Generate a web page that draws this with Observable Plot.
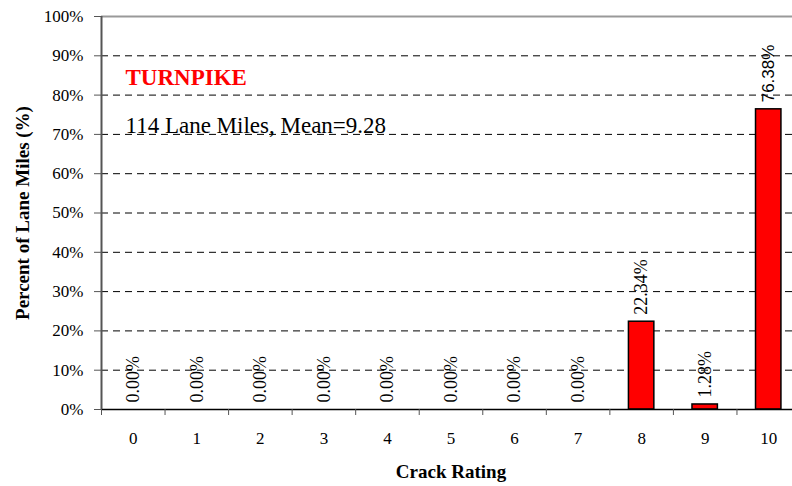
<!DOCTYPE html>
<html>
<head>
<meta charset="utf-8">
<script src="https://cdn.jsdelivr.net/npm/d3@7"></script>
<script src="https://cdn.jsdelivr.net/npm/@observablehq/plot@0.6"></script>
<style>
  html, body { margin: 0; padding: 0; background: #fff; }
  #chart svg { display: block; overflow: hidden; font-family: "Liberation Serif", "Times New Roman", serif; }
</style>
</head>
<body>
<div id="chart"></div>
<script>
const ratings = [0, 1, 2, 3, 4, 5, 6, 7, 8, 9, 10];
const percents = [0, 0, 0, 0, 0, 0, 0, 0, 22.34, 1.28, 76.38];
const valueLabels = ["0.00%", "0.00%", "0.00%", "0.00%", "0.00%", "0.00%", "0.00%", "0.00%", "22.34%", "1.28%", "76.38%"];
const yTicks = [0, 10, 20, 30, 40, 50, 60, 70, 80, 90, 100];
const dashedGrid = [10, 20, 30, 40, 50, 60, 70, 80, 90];
const title = "TURNPIKE";
const subtitle = "114 Lane Miles, Mean=9.28";
const xTitle = "Crack Rating";
const yTitle = "Percent of Lane Miles (%)";

const rows = ratings.map((r, i) => ({r, p: percents[i], label: valueLabels[i]}));
const boundaries = ratings.map(r => r - 0.5).concat([ratings[ratings.length - 1] + 0.5]);
const half = 0.2;
const serif = "Liberation Serif";
const sans = "Liberation Sans";

const chart = Plot.plot({
  width: 792,
  height: 486,
  marginLeft: 101,
  marginRight: -8,
  marginTop: 16,
  marginBottom: 77,
  style: {fontFamily: serif, background: "#fff", color: "#000"},
  x: {type: "linear", domain: [-0.5, 10.5]},
  y: {domain: [0, 100]},
  marks: [
    Plot.ruleY(dashedGrid, {stroke: "#000", strokeWidth: 1, strokeDasharray: "7,5"}),
    Plot.ruleY([100], {stroke: "#999", strokeWidth: 2}),
    Plot.rectY(rows, {x1: d => d.r - half, x2: d => d.r + half, y1: 0, y2: "p", fill: "#ff0000", stroke: "#000", strokeWidth: 1.5}),
    Plot.ruleY([0], {stroke: "#000", strokeWidth: 1.5}),
    Plot.ruleX([boundaries[0]], {y1: 0, y2: 100, stroke: "#555", strokeWidth: 2}),
    Plot.axisY({ticks: yTicks, tickFormat: d => d + "%", tickSize: 7, tickPadding: 11, fontSize: 17, fontFamily: serif, label: null, stroke: "#555", fill: "#000"}),
    Plot.axisX({ticks: boundaries, tickFormat: () => "", tickSize: 6, label: null, stroke: "#555"}),
    Plot.axisX({ticks: ratings, tickFormat: d => String(d), tickSize: 0, tickPadding: 22, fontSize: 17, fontFamily: serif, label: null, fill: "#000"}),
    Plot.text(rows.filter(d => d.r !== 10), {x: "r", y: "p", text: "label", rotate: -90, textAnchor: "start", lineAnchor: "middle", dy: -7, fontSize: 18, fontFamily: serif, fill: "#000"}),
    Plot.text(rows.filter(d => d.r === 10), {x: "r", y: "p", text: "label", rotate: -90, textAnchor: "start", lineAnchor: "middle", dy: -7, fontSize: 17, fontFamily: sans, fill: "#000"}),
    Plot.text([title], {frameAnchor: "top-left", text: d => d, dx: 24, dy: 52, fontSize: 23, fontWeight: "bold", fontFamily: serif, fill: "#ff0000", textAnchor: "start", lineAnchor: "top"}),
    Plot.text([subtitle], {frameAnchor: "top-left", text: d => d, dx: 24, dy: 100, fontSize: 23, fontFamily: serif, fill: "#000", textAnchor: "start", lineAnchor: "top"}),
    Plot.text([xTitle], {frameAnchor: "bottom", text: d => d, dy: 62, fontSize: 19, fontWeight: "bold", fontFamily: serif, fill: "#000", textAnchor: "middle", lineAnchor: "middle"}),
    Plot.text([yTitle], {frameAnchor: "left", text: d => d, dx: -79, rotate: -90, fontSize: 19, fontWeight: "bold", fontFamily: serif, fill: "#000", textAnchor: "middle", lineAnchor: "middle"})
  ]
});
document.getElementById("chart").appendChild(chart);
</script>
</body>
</html>
